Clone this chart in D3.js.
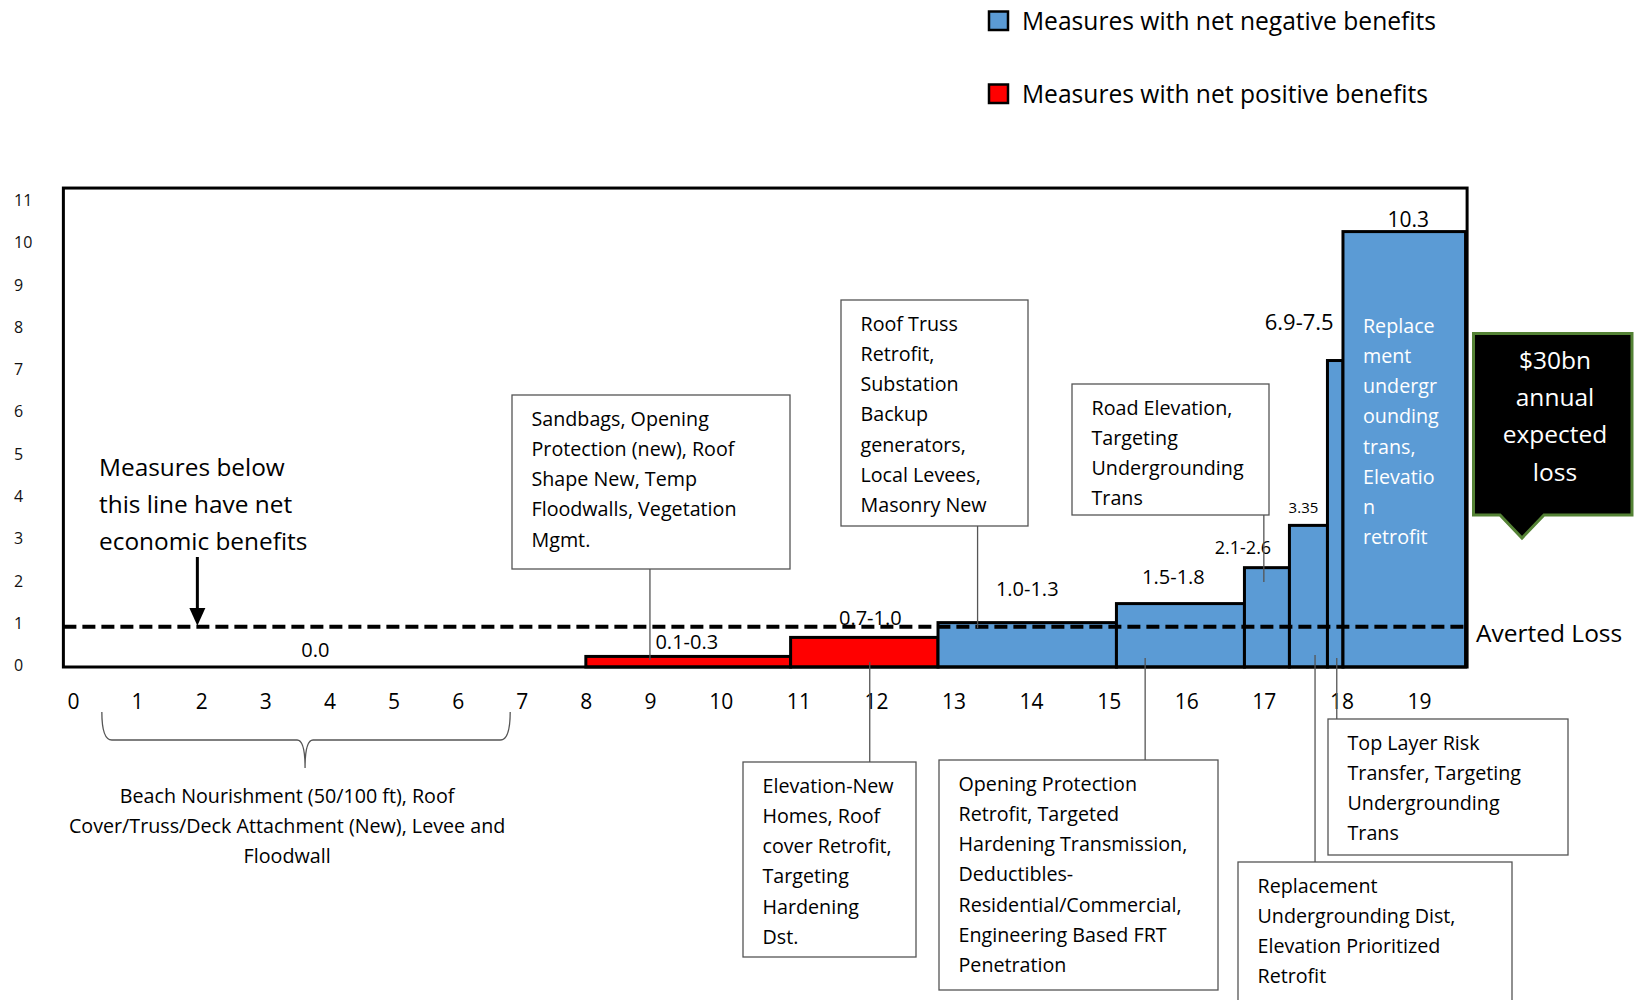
<!DOCTYPE html>
<html>
<head>
<meta charset="utf-8">
<script src="https://cdn.jsdelivr.net/npm/d3@7"></script>
<style>
  html, body { margin: 0; padding: 0; background: #fff; }
  svg { display: block; font-family: "Open Sans", sans-serif; }
</style>
</head>
<body>
<svg id="chart" width="1634" height="1000"></svg>
<script>
// Steps of the averted-loss curve: cumulative averted loss (x) against benefit/cost value (y)
const stepStart   = [0, 8.0, 10.9, 12.8, 15.1, 16.75, 17.33, 17.82, 18.02];
const stepEnd     = [8.0, 10.9, 12.8, 15.1, 16.75, 17.33, 17.82, 18.02, 19.6];
const stepValue   = [0, 0.25, 0.7, 1.05, 1.5, 2.35, 3.35, 7.25, 10.3];
const stepLabel   = ["0.0", "0.1-0.3", "0.7-1.0", "1.0-1.3", "1.5-1.8", "2.1-2.6", "3.35", "6.9-7.5", "10.3"];
const stepBenefit = ["positive", "positive", "positive", "negative", "negative", "negative", "negative", "negative", "negative"];

const avertedLossLevel = 0.95;
const xTicks = d3.range(0, 20);
const yTicks = d3.range(0, 12);

const legendKeys   = ["negative", "positive"];
const legendLabels = ["Measures with net negative benefits", "Measures with net positive benefits"];

// Measures grouped by step
const measureText = [
  ["Beach Nourishment (50/100 ft), Roof", "Cover/Truss/Deck Attachment (New), Levee and", "Floodwall"],
  ["Sandbags, Opening", "Protection (new), Roof", "Shape New, Temp", "Floodwalls, Vegetation", "Mgmt."],
  ["Elevation-New", "Homes, Roof", "cover Retrofit,", "Targeting", "Hardening", "Dst."],
  ["Roof Truss", "Retrofit,", "Substation", "Backup", "generators,", "Local Levees,", "Masonry New"],
  ["Opening Protection", "Retrofit, Targeted", "Hardening Transmission,", "Deductibles-", "Residential/Commercial,", "Engineering Based FRT", "Penetration"],
  ["Road Elevation,", "Targeting", "Undergrounding", "Trans"],
  ["Replacement", "Undergrounding Dist,", "Elevation Prioritized", "Retrofit"],
  ["Top Layer Risk", "Transfer, Targeting", "Undergrounding", "Trans"],
  ["Replace", "ment", "undergr", "ounding", "trans,", "Elevatio", "n", "retrofit"]
];
const thresholdNote = ["Measures below", "this line have net", "economic benefits"];
const expectedLossText = ["$30bn", "annual", "expected", "loss"];
const avertedLossText = "Averted Loss";

// ---------------------------------------------------------------------------
const svg = d3.select("#chart");
const colour = { negative: "#5B9BD5", positive: "#FF0000" };

const x = d3.scaleLinear().domain([0, 9.5, 19]).range([73, 682, 1419]);
const y = d3.scaleLinear().domain([0, 11]).range([667, 202]);

const frameX0 = x(-0.15), frameX1 = x(19.62), frameY0 = y(11.33), frameY1 = y(0);

// bars
svg.append("g").selectAll("rect")
  .data(d3.range(stepValue.length).filter(i => stepValue[i] > 0))
  .join("rect")
  .attr("x", i => x(stepStart[i]))
  .attr("y", i => y(stepValue[i]))
  .attr("width", i => x(stepEnd[i]) - x(stepStart[i]))
  .attr("height", i => y(0) - y(stepValue[i]))
  .attr("fill", i => colour[stepBenefit[i]])
  .attr("stroke", "#000")
  .attr("stroke-width", 3);

// averted-loss threshold
svg.append("line")
  .attr("x1", frameX0).attr("x2", frameX1)
  .attr("y1", y(avertedLossLevel)).attr("y2", y(avertedLossLevel))
  .attr("stroke", "#000").attr("stroke-width", 4)
  .attr("stroke-dasharray", "13,6");

// plot frame
svg.append("rect")
  .attr("x", frameX0).attr("y", frameY0)
  .attr("width", frameX1 - frameX0).attr("height", frameY1 - frameY0)
  .attr("fill", "none").attr("stroke", "#000").attr("stroke-width", 3);

// value labels above the steps
const labelLayout = [
  { dx: -14, gap: 17, size: 20 },
  { dx: 8,   gap: 14, size: 20 },
  { dx: 6,   gap: 19, size: 20 },
  { dx: 0,   gap: 34, size: 20 },
  { dx: -7,  gap: 27, size: 20 },
  { dx: -24, gap: 20, size: 18 },
  { dx: -5,  gap: 18, size: 15 },
  { dx: -36, gap: 38, size: 22 },
  { dx: 4,   gap: 12, size: 21 }
];
svg.append("g").selectAll("text")
  .data(d3.range(stepLabel.length))
  .join("text")
  .attr("x", i => x((stepStart[i] + stepEnd[i]) / 2) + labelLayout[i].dx)
  .attr("y", i => y(stepValue[i]) - labelLayout[i].gap)
  .attr("dy", "0.35em")
  .attr("text-anchor", "middle")
  .attr("font-size", i => labelLayout[i].size)
  .attr("fill", "#000")
  .text(i => stepLabel[i]);

// axes
const xAxis = svg.append("g")
  .attr("transform", "translate(0,702)")
  .call(d3.axisBottom(x).tickValues(xTicks).tickSize(0).tickFormat(d3.format("d")));
xAxis.select(".domain").remove();
xAxis.selectAll("text")
  .attr("y", 0).attr("dy", "0.35em")
  .attr("font-family", "Open Sans, sans-serif")
  .attr("font-size", 21).attr("fill", "#000");

const yAxis = svg.append("g")
  .attr("transform", "translate(0,-2)")
  .call(d3.axisLeft(y).tickValues(yTicks).tickSize(0).tickFormat(d3.format("d")));
yAxis.select(".domain").remove();
yAxis.selectAll("text")
  .attr("x", 14).attr("dy", "0.35em")
  .attr("text-anchor", "start")
  .attr("font-family", "Open Sans, sans-serif")
  .attr("font-size", 16).attr("fill", "#111");

// callout boxes for the measure groups
const lineGap = 30.2;
const calloutLayout = [
  null,
  { box: [512, 395, 790, 569], path: [[9.0, 569], [9.0, 660]] },
  { box: [743, 762, 916, 957], path: [[11.92, 762], [11.92, 662]] },
  { box: [841, 300, 1028, 526], path: [[13.31, 526], [13.31, 628]] },
  { box: [939, 760, 1218, 990], path: [[15.47, 760], [15.47, 658]] },
  { box: [1072, 384, 1269, 515], path: [[null, 486], [17.0, 486], [17.0, 582]] },
  { box: [1238, 862, 1512, 1010], path: [[17.66, 862], [17.66, 655]] },
  { box: [1328, 719, 1568, 855], path: [[17.94, 719], [17.94, 658]] },
  null
];
const callouts = svg.append("g");
calloutLayout.forEach((c, i) => {
  if (!c) return;
  const [bx0, by0, bx1, by1] = c.box;
  const pts = c.path.map(([px, py]) => [px === null ? bx1 : x(px), py]);
  callouts.append("path")
    .attr("d", d3.line()(pts))
    .attr("fill", "none").attr("stroke", "#555").attr("stroke-width", 1.3);
  callouts.append("rect")
    .attr("x", bx0).attr("y", by0).attr("width", bx1 - bx0).attr("height", by1 - by0)
    .attr("fill", "#fff").attr("stroke", "#555").attr("stroke-width", 1.3);
  callouts.append("g").selectAll("text")
    .data(measureText[i])
    .join("text")
    .attr("x", bx0 + 19.5)
    .attr("y", (d, k) => by0 + 24 + k * lineGap)
    .attr("dy", "0.35em")
    .attr("font-size", 19.7)
    .attr("fill", "#000")
    .text(d => d);
});

// measures listed inside the tallest step
svg.append("g").selectAll("text")
  .data(measureText[8])
  .join("text")
  .attr("x", x(stepEnd[7]) + 20)
  .attr("y", (d, k) => 326 + k * lineGap)
  .attr("dy", "0.35em")
  .attr("font-size", 19.7)
  .attr("fill", "#fff")
  .text(d => d);

// brace under the zero-value step
const bl = x(0.45), br = x(6.82), bm = x(3.62), bt = 712, bb = 740, tip = 768;
svg.append("path")
  .attr("d", `M${bl},${bt} Q${bl},${bb} ${bl + 10},${bb} H${bm - 8} Q${bm},${bb} ${bm},${tip}` +
             ` Q${bm},${bb} ${bm + 8},${bb} H${br - 10} Q${br},${bb} ${br},${bt}`)
  .attr("fill", "none").attr("stroke", "#555").attr("stroke-width", 1.3);
svg.append("g").selectAll("text")
  .data(measureText[0])
  .join("text")
  .attr("x", x(3.34))
  .attr("y", (d, k) => 796 + k * lineGap)
  .attr("dy", "0.35em")
  .attr("text-anchor", "middle")
  .attr("font-size", 19.7)
  .attr("fill", "#000")
  .text(d => d);

// threshold note with arrow
svg.append("g").selectAll("text")
  .data(thresholdNote)
  .join("text")
  .attr("x", 99)
  .attr("y", (d, k) => 467 + k * 37)
  .attr("dy", "0.35em")
  .attr("font-size", 24.4)
  .attr("fill", "#000")
  .text(d => d);
const ax = x(1.94);
svg.append("line")
  .attr("x1", ax).attr("x2", ax).attr("y1", 557).attr("y2", 610)
  .attr("stroke", "#000").attr("stroke-width", 3);
svg.append("path")
  .attr("d", `M${ax - 8},${608} L${ax + 8},${608} L${ax},${y(avertedLossLevel) - 1} Z`)
  .attr("fill", "#000");

// averted-loss caption
svg.append("text")
  .attr("x", 1476).attr("y", 633).attr("dy", "0.35em")
  .attr("font-size", 24.5).attr("fill", "#000")
  .text(avertedLossText);

// expected-loss callout
svg.append("path")
  .attr("d", "M1473.5,333.5 H1632 V515 H1544 L1522,538 L1500,515 H1473.5 Z")
  .attr("fill", "#000").attr("stroke", "#548235").attr("stroke-width", 3)
  .attr("stroke-linejoin", "miter");
svg.append("g").selectAll("text")
  .data(expectedLossText)
  .join("text")
  .attr("x", 1555)
  .attr("y", (d, k) => 360.5 + k * 37.2)
  .attr("dy", "0.35em")
  .attr("text-anchor", "middle")
  .attr("font-size", 24.5)
  .attr("fill", "#fff")
  .text(d => d);

// legend
const legend = svg.append("g").selectAll("g")
  .data(legendKeys)
  .join("g")
  .attr("transform", (d, k) => `translate(989,${11.5 + k * 73})`);
legend.append("rect")
  .attr("width", 19).attr("height", 18.5)
  .attr("fill", d => colour[d]).attr("stroke", "#000").attr("stroke-width", 2.5);
legend.append("text")
  .attr("x", 33).attr("y", 9.5).attr("dy", "0.35em")
  .attr("font-size", 24.6).attr("fill", "#000")
  .text((d, k) => legendLabels[k]);
</script>
</body>
</html>
